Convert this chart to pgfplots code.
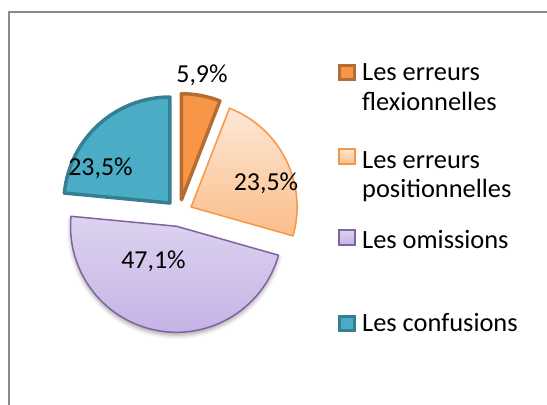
\documentclass[border=0pt]{standalone}
\usepackage{pgfplots}
\pgfplotsset{compat=1.18}
\usepackage{fontspec}
\setmainfont{Carlito}
\usetikzlibrary{shadows.blur}
\definecolor{orF}{HTML}{F79646}
\definecolor{orD}{HTML}{B66D31}
\definecolor{peT}{HTML}{FDE7D5}
\definecolor{peB}{HTML}{FBBE8A}
\definecolor{puT}{HTML}{DDD4EF}
\definecolor{puB}{HTML}{C4B0E5}
\definecolor{puD}{HTML}{8064A2}
\definecolor{teF}{HTML}{4BACC6}
\definecolor{teD}{HTML}{357F93}
\definecolor{frame}{HTML}{8A8A8A}
% #1 cumulative start (%), #2 value (%), #3 style
\newcommand\slice[3]{%
  \path[#3] (axis cs:179,213) ++({90-3.6*(#1+#2/2)}:13.5bp)
    -- ++({90-3.6*#1}:106bp)
    arc[start angle={90-3.6*#1}, end angle={90-3.6*(#1+#2)}, radius=106bp]
    -- cycle;}
\begin{document}
\begin{tikzpicture}
\begin{axis}[scale only axis, width=547bp, height=405bp, at={(0,0)}, anchor=south west,
  hide axis, xmin=0, xmax=547, ymin=0, ymax=405, y dir=reverse, clip=false]
% frame
\draw[frame, line width=2bp] (axis cs:9,420) -- (axis cs:9,12) -- (axis cs:560,12);
% slices: values 5.9, 23.5, 47.1, 23.5
\slice{0}{5.9}{fill=orF, draw=orD, line width=3.5bp, line join=round}
\slice{5.9}{23.5}{top color=peT, bottom color=peB, draw=orF, line width=1.5bp, line join=round}
\slice{29.4}{47.1}{top color=puT, bottom color=puB, draw=puD, line width=1.5bp, line join=round,
  blur shadow={shadow xshift=0bp, shadow yshift=-3bp, shadow blur radius=4bp, shadow opacity=35}}
\slice{76.5}{23.5}{fill=teF, draw=teD, line width=3.5bp, line join=round}
% data labels
\begin{scope}[font=\fontsize{26}{30}\selectfont]
\node[anchor=base] at (axis cs:202,83) {5,9\%};
\node[anchor=base] at (axis cs:100.5,175) {23,5\%};
\node[anchor=base] at (axis cs:266,190) {23,5\%};
\node[anchor=base] at (axis cs:153.5,268) {47,1\%};
\end{scope}
% legend
\begin{scope}[font=\fontsize{26.5}{30}\selectfont]
\draw[fill=orF, draw=orD, line width=3bp] (axis cs:339,66) rectangle (axis cs:354,80);
\node[anchor=base west, inner sep=0pt] at (axis cs:362,81) {Les erreurs};
\node[anchor=base west, inner sep=0pt] at (axis cs:362,110) {flexionnelles};
\draw[top color=peT, bottom color=peB, draw=orF, line width=1.5bp] (axis cs:339,149) rectangle (axis cs:355,164);
\node[anchor=base west, inner sep=0pt] at (axis cs:362,168) {Les erreurs};
\node[anchor=base west, inner sep=0pt] at (axis cs:362,197) {positionnelles};
\draw[top color=puT, bottom color=puB, draw=puD, line width=1.5bp] (axis cs:339,230) rectangle (axis cs:355,245);
\node[anchor=base west, inner sep=0pt] at (axis cs:362,248) {Les omissions};
\draw[fill=teF, draw=teD, line width=3bp] (axis cs:339,316) rectangle (axis cs:354,330);
\node[anchor=base west, inner sep=0pt] at (axis cs:362,331) {Les confusions};
\end{scope}
\end{axis}
\pgfresetboundingbox
\useasboundingbox (0,0) rectangle (547bp,405bp);
\end{tikzpicture}
\end{document}
